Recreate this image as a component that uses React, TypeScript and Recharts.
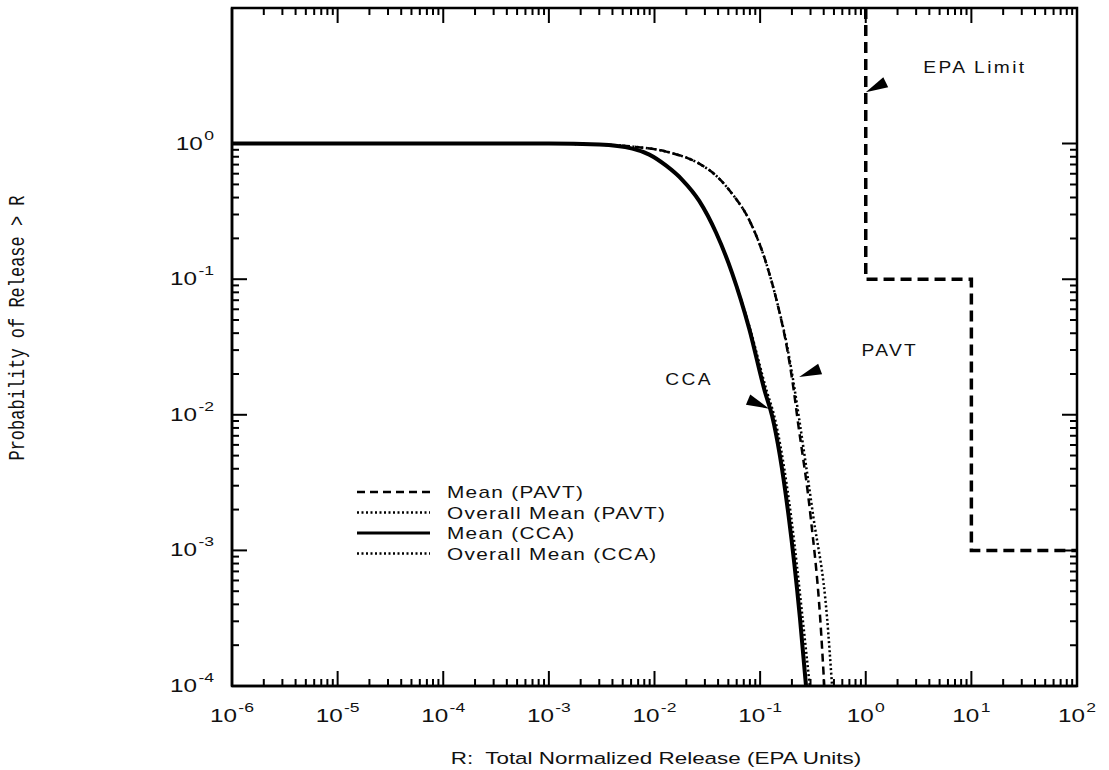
import React from "react";
import { ComposedChart, Line, XAxis, YAxis, ReferenceDot, ReferenceArea, Legend } from "recharts";

// Points: [R (EPA units), probability of release > R]
const pavtMean: [number, number][] = [
  [1e-6, 1], [1e-3, 1], [0.003, 0.984], [0.00617, 0.951], [0.0129, 0.873],
  [0.0265, 0.711], [0.0384, 0.579], [0.0543, 0.427], [0.0787, 0.274],
  [0.114, 0.1315], [0.1416, 0.0723], [0.18, 0.0308], [0.209, 0.0148],
  [0.224, 0.0098], [0.3, 0.0018], [0.37, 0.00032], [0.405, 0.0001],
];
const pavtOverall: [number, number][] = [
  [1e-6, 1], [1e-3, 1], [0.003, 0.984], [0.00617, 0.951], [0.0129, 0.873],
  [0.0265, 0.711], [0.0384, 0.579], [0.0543, 0.427], [0.0787, 0.274],
  [0.114, 0.1315], [0.1416, 0.0723], [0.182, 0.0308], [0.214, 0.0148],
  [0.232, 0.0098], [0.318, 0.0018], [0.43, 0.00032], [0.48, 0.0001],
];
const ccaMean: [number, number][] = [
  [1e-6, 1], [1e-3, 1], [0.003, 0.983], [0.00617, 0.918], [0.00893, 0.829],
  [0.0129, 0.687], [0.0183, 0.541], [0.0265, 0.378], [0.0384, 0.219],
  [0.0543, 0.111], [0.0787, 0.0434], [0.111, 0.0148], [0.13, 0.0098],
  [0.186, 0.0018], [0.238, 0.00032], [0.272, 0.0001],
];
const ccaOverall: [number, number][] = [
  [1e-6, 1], [1e-3, 1], [0.003, 0.983], [0.00617, 0.918], [0.00893, 0.829],
  [0.0129, 0.687], [0.0183, 0.541], [0.0265, 0.378], [0.0384, 0.219],
  [0.0543, 0.111], [0.08, 0.0434], [0.116, 0.0148], [0.136, 0.0098],
  [0.196, 0.0018], [0.252, 0.00032], [0.295, 0.0001],
];
// EPA release limit (step)
const epaLimit: [number, number][] = [
  [1, 10], [1, 0.1], [10, 0.1], [10, 0.001], [100, 0.001],
];

const xMajor = [1e-6, 1e-5, 1e-4, 1e-3, 1e-2, 1e-1, 1e0, 1e1, 1e2];
const yMajor = [1e-4, 1e-3, 1e-2, 1e-1, 1e0];
const X_DOMAIN: [number, number] = [1e-6, 100];
const Y_DOMAIN: [number, number] = [1e-4, 10];

// majors plus 2..9 minors in each decade
function logTicks(majors: number[]) {
  const out: number[] = [];
  majors.forEach((m, i) => {
    out.push(m);
    if (i < majors.length - 1) for (let k = 2; k <= 9; k++) out.push(k * m);
  });
  return out;
}
const xTicks = logTicks(xMajor);
const yTicks = logTicks(yMajor);
const isMajor = (v: number) => {
  const lg = Math.log10(v);
  return Math.abs(lg - Math.round(lg)) < 1e-6;
};

const annotations = [
  { x: 10.8, y: 3.65, text: "EPA Limit" },
  { x: 1.69, y: 0.03, text: "PAVT" },
  { x: 0.0213, y: 0.0185, text: "CCA" },
];
// arrow tips, with the direction back towards the base (pixels)
const arrows = [
  { x: 1, y: 2.39, dx: 20, dy: -10 },
  { x: 0.234, y: 0.019, dx: 21, dy: -8 },
  { x: 0.1216, y: 0.0111, dx: -21, dy: -9 },
];

const series = [
  { key: "pavtMean", name: "Mean (PAVT)", points: pavtMean, dash: "8 5", width: 2.5 },
  { key: "pavtOverall", name: "Overall Mean (PAVT)", points: pavtOverall, dash: "2 2.5", width: 2.5 },
  { key: "ccaMean", name: "Mean (CCA)", points: ccaMean, dash: undefined, width: 4 },
  { key: "ccaOverall", name: "Overall Mean (CCA)", points: ccaOverall, dash: "2 2.5", width: 2.5 },
];

const toRows = (pts: [number, number][]) => pts.map(([x, y]) => ({ x, y }));

const SANS = "'Liberation Sans', Arial, Helvetica, sans-serif";
const INK = "#111";

// chart box
const W = 1109;
const H = 770;
const MARGIN = { top: 8, right: 32, bottom: 0, left: 0 };
const Y_AXIS_W = 232;
const X_AXIS_H = 84;

// inward ticks + labels on bottom / left
function LogTick(props: any) {
  const x = Number(props.x);
  const y = Number(props.y);
  const bottom = props.side === "bottom";
  const v = props.payload.value;
  const major = isMajor(v);
  const exp = Math.round(Math.log10(v));
  const len = major ? 15 : 7;
  const t = bottom
    ? `translate(${x},${y + 36}) scale(1.35,1)`
    : `translate(${x - 18},${y + 6}) scale(1.35,1)`;
  const d = bottom ? `M${x},${y}V${y - len}` : `M${x},${y}H${x + len}`;
  return (
    <g>
      <path d={d} stroke="#000" strokeWidth={2} fill="none" />
      {major && (
        <g transform={t}>
          <text x={0} y={0} textAnchor={bottom ? "middle" : "end"} fontFamily={SANS} fontSize={18} fill={INK}>
            <tspan>10</tspan>
            <tspan dx={1} dy={-10} fontSize={13}>{exp}</tspan>
          </text>
        </g>
      )}
    </g>
  );
}

// plot frame with the mirrored inward ticks on the top and right edges
function Frame(props: any) {
  const x = Number(props.x);
  const y = Number(props.y);
  const w = Number(props.width);
  const h = Number(props.height);
  const lx0 = Math.log10(X_DOMAIN[0]);
  const lxs = Math.log10(X_DOMAIN[1]) - lx0;
  const ly0 = Math.log10(Y_DOMAIN[0]);
  const lys = Math.log10(Y_DOMAIN[1]) - ly0;
  let d = "";
  xTicks.forEach((v) => {
    const px = x + ((Math.log10(v) - lx0) / lxs) * w;
    d += `M${px},${y}V${y + (isMajor(v) ? 15 : 7)}`;
  });
  yTicks.forEach((v) => {
    const py = y + h - ((Math.log10(v) - ly0) / lys) * h;
    d += `M${x + w},${py}H${x + w - (isMajor(v) ? 15 : 7)}`;
  });
  return (
    <g>
      <rect x={x} y={y} width={w} height={h} fill="none" stroke="#000" strokeWidth={2.5} />
      <path d={d} stroke="#000" strokeWidth={2} fill="none" />
    </g>
  );
}

function ArrowHead(props: any) {
  const { cx, cy, dx, dy } = props;
  const n = Math.hypot(dx, dy);
  const px = (-dy / n) * 5.5;
  const py = (dx / n) * 5.5;
  const bx = cx + dx;
  const by = cy + dy;
  return <polygon points={`${cx},${cy} ${bx + px},${by + py} ${bx - px},${by - py}`} fill="#000" />;
}

function NoteText(props: any) {
  const { cx, cy, text } = props;
  return (
    <g transform={`translate(${cx},${cy + 6}) scale(1.2,1)`}>
      <text x={0} y={0} textAnchor="middle" fontFamily={SANS} fontSize={16} letterSpacing={2} fill={INK}>
        {text}
      </text>
    </g>
  );
}

function LegendBox() {
  return (
    <svg width={340} height={90}>
      {series.map((s, i) => {
        const cy = 12 + i * 20.5;
        return (
          <g key={s.key}>
            <line x1={7} x2={80} y1={cy} y2={cy} stroke="#000" strokeWidth={s.width === 4 ? 3 : 2.5} strokeDasharray={s.dash} />
            <g transform={`translate(97,${cy + 6}) scale(1.3,1)`}>
              <text x={0} y={0} fontFamily={SANS} fontSize={16} letterSpacing={1} fill={INK}>
                {s.name}
              </text>
            </g>
          </g>
        );
      })}
    </svg>
  );
}

export default function App() {
  return (
    <div style={{ position: "absolute", left: 0, top: 0, width: W, height: H, background: "#fff" }}>
      <ComposedChart width={W} height={H} margin={MARGIN}>
        <XAxis
          dataKey="x"
          type="number"
          scale="log"
          domain={X_DOMAIN}
          allowDataOverflow
          ticks={xTicks}
          interval={0}
          height={X_AXIS_H}
          tickSize={0}
          tickMargin={0}
          axisLine={{ stroke: "#000", strokeWidth: 2.5 }}
          tick={(p: any) => <LogTick {...p} side="bottom" />}
        />
        <YAxis
          type="number"
          scale="log"
          domain={Y_DOMAIN}
          allowDataOverflow
          ticks={yTicks}
          interval={0}
          width={Y_AXIS_W}
          tickSize={0}
          tickMargin={0}
          axisLine={{ stroke: "#000", strokeWidth: 2.5 }}
          tick={(p: any) => <LogTick {...p} side="left" />}
        />
        <ReferenceArea
          x1={X_DOMAIN[0]}
          x2={X_DOMAIN[1]}
          y1={Y_DOMAIN[0]}
          y2={Y_DOMAIN[1]}
          ifOverflow="visible"
          shape={(p: any) => <Frame {...p} />}
        />
        <Legend
          layout="vertical"
          align="center"
          verticalAlign="middle"
          content={() => <LegendBox />}
          wrapperStyle={{ left: 350, top: 480, width: 340, height: 90 }}
        />
        <Line
          data={toRows(epaLimit)}
          dataKey="y"
          name="EPA Limit"
          type="linear"
          stroke="#000"
          strokeWidth={3.5}
          strokeDasharray="11 6"
          dot={false}
          legendType="none"
          isAnimationActive={false}
        />
        {series.map((s) => (
          <Line
            key={s.key}
            data={toRows(s.points)}
            dataKey="y"
            name={s.name}
            type="monotone"
            stroke="#000"
            strokeWidth={s.width}
            strokeDasharray={s.dash}
            dot={false}
            isAnimationActive={false}
          />
        ))}
        {arrows.map((a, i) => (
          <ReferenceDot
            key={`arrow-${i}`}
            x={a.x}
            y={a.y}
            shape={(p: any) => <ArrowHead {...p} dx={a.dx} dy={a.dy} />}
          />
        ))}
        {annotations.map((a) => (
          <ReferenceDot
            key={a.text}
            x={a.x}
            y={a.y}
            shape={(p: any) => <NoteText {...p} text={a.text} />}
          />
        ))}
        <text
          x={656}
          y={764}
          textAnchor="middle"
          transform="translate(656,0) scale(1.36,1) translate(-656,0)"
          fontFamily={SANS}
          fontSize={16.5}
          fill={INK}
          style={{ whiteSpace: "pre" }}
        >
          {"R:  Total Normalized Release (EPA Units)"}
        </text>
        <g transform="translate(24,328) scale(1.3,1) rotate(-90)">
          <text x={0} y={0} textAnchor="middle" fontFamily="'Liberation Mono', 'Courier New', monospace" fontSize={17} fill={INK}>
            {"Probability of Release > R"}
          </text>
        </g>
      </ComposedChart>
    </div>
  );
}
